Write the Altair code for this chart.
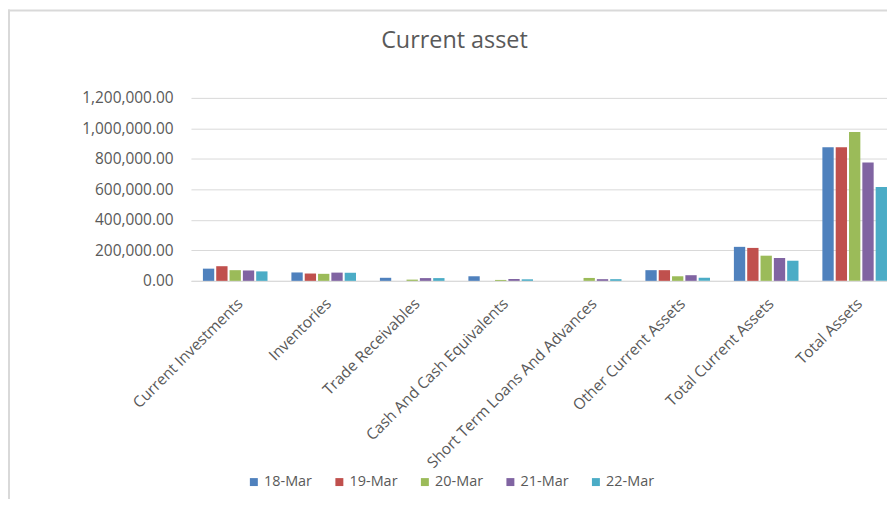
import altair as alt
import pandas as pd

categories = ["Current Investments", "Inventories", "Trade Receivables",
              "Cash And Cash Equivalents", "Short Term Loans And Advances",
              "Other Current Assets", "Total Current Assets", "Total Assets"]
series = ["18-Mar", "19-Mar", "20-Mar", "21-Mar", "22-Mar"]
s18 = [80000, 55000, 20000, 30000, 0, 70000, 223000, 876000]
s19 = [96000, 48000, 0, 0, 0, 70000, 216000, 876000]
s20 = [70000, 46000, 8000, 6000, 19000, 30000, 165000, 976000]
s21 = [68000, 54000, 18000, 12000, 11000, 37000, 150000, 776000]
s22 = [62000, 53000, 18000, 10000, 11000, 20000, 132000, 616000]
colors = ["#4F81BD", "#C0504D", "#9BBB59", "#8064A2", "#4BACC6"]
title_text = "Current asset"

rows = []
for s, vals in zip(series, [s18, s19, s20, s21, s22]):
    for c, v in zip(categories, vals):
        rows.append({"category": c, "series": s, "value": v})
df = pd.DataFrame(rows)

FONT = "Open Sans"
GREY = "#595959"

bars = alt.Chart(df).mark_bar().encode(
    x=alt.X("category:N", sort=categories, title=None,
            scale=alt.Scale(range=[0, 712], paddingInner=0.27, paddingOuter=0.135),
            axis=alt.Axis(labelAngle=-45, labelAlign="right", labelBaseline="top",
                          labelFontSize=15.5, labelColor=GREY, labelFont=FONT,
                          ticks=False, domainColor="#d9d9d9", labelPadding=15,
                          labelLimit=400)),
    xOffset=alt.XOffset("series:N", sort=series,
                        scale=alt.Scale(paddingInner=0.15)),
    y=alt.Y("value:Q", title=None,
            scale=alt.Scale(domain=[0, 1200000]),
            axis=alt.Axis(values=[0, 200000, 400000, 600000, 800000, 1000000, 1200000],
                          format=",.2f", labelFontSize=15.5, labelColor=GREY,
                          labelFont=FONT, ticks=False, domain=False,
                          gridColor="#d9d9d9", labelPadding=18)),
    color=alt.Color("series:N", sort=series,
                    scale=alt.Scale(domain=series, range=colors),
                    legend=alt.Legend(title=None, orient="none", legendX=56, legendY=379,
                                      direction="horizontal", columns=5,
                                      symbolType="square", symbolSize=64,
                                      symbolStrokeWidth=0, labelFontSize=14.5,
                                      labelColor=GREY, labelFont=FONT,
                                      columnPadding=20, labelOffset=3, padding=0)),
)

title = alt.Chart(alt.Data(values=[{"t": title_text}])).mark_text(
    font=FONT, fontSize=23.5, color=GREY, align="center", baseline="middle"
).encode(text="t:N", x=alt.value(265), y=alt.value(-57))

border = alt.Chart(alt.Data(values=[{}])).mark_rule(color="#d9d9d9", strokeWidth=2).encode(
    x=alt.value(-183), y=alt.value(-89), y2=alt.value(440))
border_top = alt.Chart(alt.Data(values=[{}])).mark_rule(color="#d9d9d9", strokeWidth=2).encode(
    x=alt.value(-184), x2=alt.value(720), y=alt.value(-88))

chart = alt.layer(bars, title, border, border_top).properties(
    width=700, height=184,
    autosize=alt.AutoSizeParams(type="none"),
    padding={"left": 184, "top": 89, "right": 0, "bottom": 218},
).configure_view(stroke=None)

chart.save("out.html", embed_options={"renderer": "svg", "actions": False})
